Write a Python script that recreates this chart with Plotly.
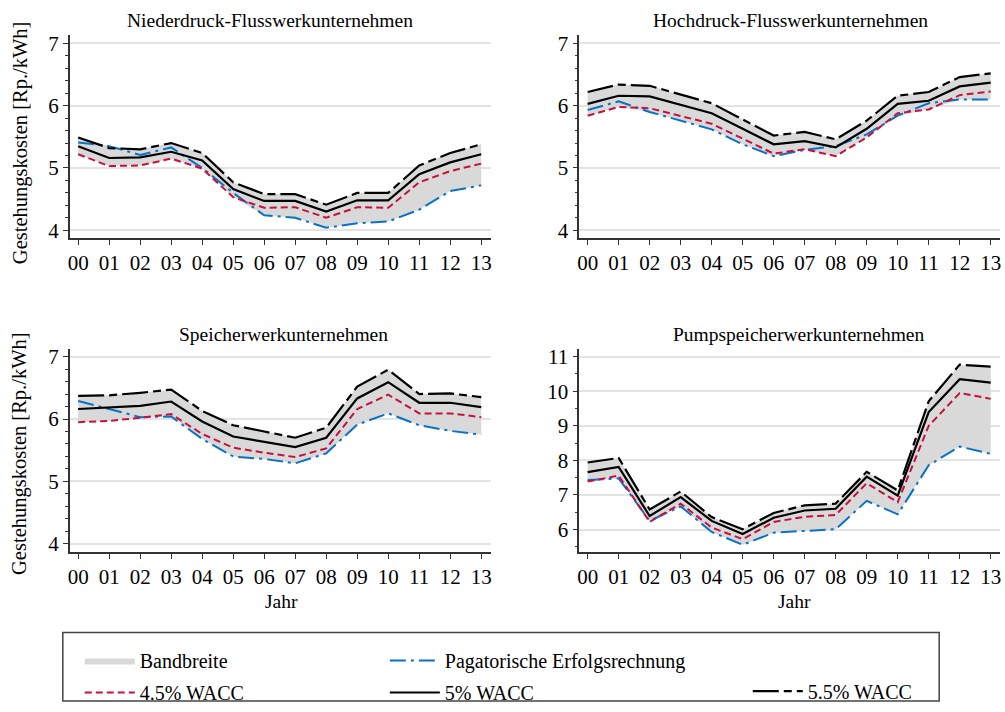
import numpy as np
import plotly.graph_objects as go

# ---------------- data ----------------
years = ["00", "01", "02", "03", "04", "05", "06", "07", "08", "09", "10", "11", "12", "13"]

titles = ["Niederdruck-Flusswerkunternehmen", "Hochdruck-Flusswerkunternehmen",
          "Speicherwerkunternehmen", "Pumpspeicherwerkunternehmen"]

series_names = ["Pagatorische Erfolgsrechnung", "4.5% WACC", "5% WACC", "5.5% WACC"]

# Niederdruck-Flusswerkunternehmen
nd_pag = [5.41, 5.35, 5.21, 5.33, 5.00, 4.60, 4.24, 4.20, 4.04, 4.11, 4.14, 4.33, 4.63, 4.72]
nd_w45 = [5.22, 5.03, 5.04, 5.15, 4.99, 4.53, 4.36, 4.37, 4.20, 4.37, 4.36, 4.77, 4.95, 5.07]
nd_w50 = [5.35, 5.16, 5.17, 5.26, 5.12, 4.66, 4.47, 4.47, 4.30, 4.48, 4.48, 4.90, 5.09, 5.22]
nd_w55 = [5.49, 5.32, 5.30, 5.40, 5.24, 4.77, 4.58, 4.58, 4.41, 4.60, 4.60, 5.04, 5.24, 5.38]

# Hochdruck-Flusswerkunternehmen
hd_pag = [5.93, 6.07, 5.90, 5.76, 5.62, 5.38, 5.19, 5.29, 5.35, 5.54, 5.84, 6.04, 6.10, 6.10]
hd_w45 = [5.84, 5.98, 5.96, 5.84, 5.71, 5.47, 5.23, 5.30, 5.19, 5.49, 5.88, 5.94, 6.17, 6.23]
hd_w50 = [6.03, 6.16, 6.15, 6.01, 5.88, 5.63, 5.38, 5.43, 5.33, 5.63, 6.03, 6.08, 6.31, 6.37]
hd_w55 = [6.22, 6.34, 6.32, 6.18, 6.04, 5.78, 5.52, 5.58, 5.46, 5.76, 6.16, 6.22, 6.46, 6.52]

# Speicherwerkunternehmen
sp_pag = [6.29, 6.16, 6.03, 6.04, 5.68, 5.40, 5.36, 5.29, 5.45, 5.91, 6.09, 5.90, 5.81, 5.75]
sp_w45 = [5.95, 5.97, 6.02, 6.08, 5.76, 5.54, 5.46, 5.39, 5.53, 6.16, 6.39, 6.09, 6.09, 6.03]
sp_w50 = [6.16, 6.18, 6.21, 6.28, 5.96, 5.72, 5.63, 5.55, 5.70, 6.33, 6.59, 6.26, 6.26, 6.19]
sp_w55 = [6.37, 6.38, 6.42, 6.47, 6.13, 5.90, 5.80, 5.70, 5.86, 6.52, 6.79, 6.40, 6.41, 6.35]

# Pumpspeicherwerkunternehmen
ps_pag = [7.43, 7.48, 6.25, 6.67, 5.93, 5.56, 5.91, 5.96, 6.01, 6.83, 6.44, 7.86, 8.40, 8.19]
ps_w45 = [7.39, 7.56, 6.22, 6.75, 6.06, 5.72, 6.22, 6.37, 6.42, 7.34, 6.79, 9.00, 9.95, 9.78]
ps_w50 = [7.66, 7.81, 6.39, 6.94, 6.25, 5.87, 6.34, 6.55, 6.60, 7.53, 6.98, 9.40, 10.35, 10.25]
ps_w55 = [7.94, 8.07, 6.58, 7.10, 6.36, 6.01, 6.48, 6.70, 6.75, 7.67, 7.13, 9.71, 10.77, 10.71]

panels = [
    [nd_pag, nd_w45, nd_w50, nd_w55],
    [hd_pag, hd_w45, hd_w50, hd_w55],
    [sp_pag, sp_w45, sp_w50, sp_w55],
    [ps_pag, ps_w45, ps_w50, ps_w55],
]

# ---------------- styling ----------------
W, H = 1005, 712
FONT = "Liberation Serif"
band_color = "#d9d9d9"
styles = [
    dict(color="#0a72c4", width=2, dash="16px,5px,3px,5px"),
    dict(color="#c8103e", width=2, dash="7px,4px"),
    dict(color="#000000", width=2.2, dash="solid"),
    dict(color="#000000", width=2.2, dash="26px,5px,8px,5px"),
]
legend_of = ["legend2", "legend", "legend2", "legend3"]


def px_x(p):
    return p / W


def px_y(p):
    return 1 - p / H


# plot areas in pixels: (left, right, top, bottom)
areas = [(68, 490, 32, 239), (579, 1001, 32, 239),
         (68, 490, 352, 559), (579, 1001, 352, 559)]
yranges = [[3.87, 7.13], [3.87, 7.13], [3.87, 7.12], [5.35, 11.22]]
minor_dt = [0.2, 0.2, 0.2, 0.5]

x = np.arange(len(years))
fig = go.Figure()

for i, data in enumerate(panels):
    xa = "x" if i == 0 else f"x{i + 1}"
    ya = "y" if i == 0 else f"y{i + 1}"
    arr = np.array(data)
    lo = arr.min(axis=0)
    hi = arr.max(axis=0)
    fig.add_trace(go.Scatter(x=x, y=lo, mode="lines", line=dict(width=0, color=band_color),
                             xaxis=xa, yaxis=ya, showlegend=False, hoverinfo="skip",
                             legendgroup="band"))
    fig.add_trace(go.Scatter(x=x, y=hi, mode="lines", line=dict(width=0, color=band_color),
                             fill="tonexty", fillcolor=band_color, xaxis=xa, yaxis=ya,
                             name="Bandbreite", showlegend=(i == 0), legend="legend",
                             legendgroup="band"))
    for k, s in enumerate(data):
        fig.add_trace(go.Scatter(x=x, y=s, mode="lines", line=styles[k], name=series_names[k],
                                 xaxis=xa, yaxis=ya, showlegend=(i == 0),
                                 legend=legend_of[k], legendgroup=series_names[k]))

layout = dict(
    width=W, height=H,
    margin=dict(l=0, r=0, t=0, b=0),
    paper_bgcolor="white", plot_bgcolor="white",
    font=dict(family=FONT, size=19, color="black"),
    showlegend=True,
)

for i, (l, r, t, b) in enumerate(areas):
    xk = "xaxis" if i == 0 else f"xaxis{i + 1}"
    yk = "yaxis" if i == 0 else f"yaxis{i + 1}"
    ya = "y" if i == 0 else f"y{i + 1}"
    xa = "x" if i == 0 else f"x{i + 1}"
    layout[xk] = dict(domain=[px_x(l), px_x(r)], anchor=ya, range=[-0.27, 13.3],
                      tickmode="array", tickvals=list(x), ticktext=years,
                      ticks="outside", ticklen=5, tickwidth=1.3, tickcolor="#333",
                      showline=True, linecolor="#333", linewidth=1.5,
                      showgrid=False, zeroline=False,
                      tickfont=dict(family=FONT, size=21, color="black"))
    layout[yk] = dict(domain=[px_y(b), px_y(t)], anchor=xa, range=yranges[i], dtick=1,
                      ticks="outside", ticklen=5, tickwidth=1.3, tickcolor="#333",
                      showline=True, linecolor="#333", linewidth=1.5,
                      showgrid=True, gridcolor="#e3e3e3", gridwidth=1.5, zeroline=False,
                      minor=dict(dtick=minor_dt[i], ticks="outside", ticklen=3,
                                 tickcolor="#333", tickwidth=1, showgrid=False),
                      tickfont=dict(family=FONT, size=21, color="black"))

leg_common = dict(orientation="v", xanchor="left", yanchor="top", bgcolor="rgba(0,0,0,0)",
                  font=dict(family=FONT, size=20, color="black"), tracegroupgap=3,
                  itemwidth=50, borderwidth=0)
layout["legend"] = dict(leg_common, x=px_x(78), y=px_y(650))
layout["legend2"] = dict(leg_common, x=px_x(384), y=px_y(650))
layout["legend3"] = dict(leg_common, x=px_x(748), y=px_y(681))

fig.update_layout(**layout)

# legend frame
fig.add_shape(type="rect", xref="paper", yref="paper", x0=px_x(61), x1=px_x(940),
              y0=px_y(711), y1=px_y(641), line=dict(color="#444", width=1.5),
              fillcolor="rgba(0,0,0,0)", layer="below")

# titles
title_pos = [(269, 17), (791, 17), (282, 337), (799, 337)]
for t, (cx, cy) in zip(titles, title_pos):
    fig.add_annotation(text=t, x=px_x(cx), y=px_y(cy), xref="paper", yref="paper",
                       showarrow=False, xanchor="center", yanchor="middle",
                       font=dict(family=FONT, size=19.5, color="black"))

# axis titles
for cy in (141, 458):
    fig.add_annotation(text="Gestehungskosten [Rp./kWh]", x=px_x(18), y=px_y(cy),
                       xref="paper", yref="paper", showarrow=False, textangle=-90,
                       xanchor="center", yanchor="middle",
                       font=dict(family=FONT, size=20.5, color="black"))
for cx in (280, 795):
    fig.add_annotation(text="Jahr", x=px_x(cx), y=px_y(609), xref="paper", yref="paper",
                       showarrow=False, xanchor="center", yanchor="middle",
                       font=dict(family=FONT, size=19.5, color="black"))

fig.write_html("out.html", config={"displayModeBar": False},
               post_script="document.body.style.margin='0';document.body.style.overflow='hidden';")
